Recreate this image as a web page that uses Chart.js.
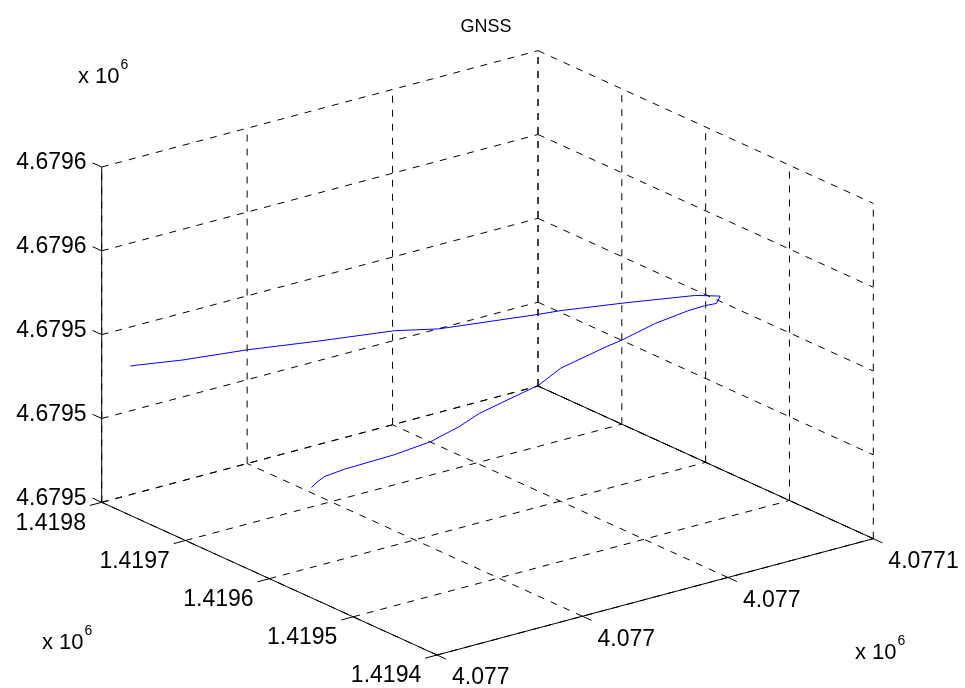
<!DOCTYPE html>
<html>
<head>
<meta charset="utf-8">
<title>GNSS</title>
<script src="https://cdn.jsdelivr.net/npm/chart.js@4.4.0/dist/chart.umd.min.js"></script>
<style>
    html, body { margin: 0; padding: 0; background: #fff; }
    #wrap { width: 965px; height: 688px; }
</style>
</head>
<body>
<div id="wrap"><canvas id="gnssChart" width="965" height="688"></canvas></div>
<script>
// GNSS track, ECEF metres
const trackX = [4077002.9, 4077003.5, 4077007.7, 4077014.2, 4077021.1, 4077028.2, 4077031.7,
    4077041.6, 4077043.8, 4077049.9, 4077056.2, 4077057.8, 4077056.4, 4077055.7, 4077054.5,
    4077051.6, 4077047.8, 4077046.3, 4077041.4, 4077037.9, 4077031.5, 4077028.6, 4077025.3,
    4077022.2, 4077018.6, 4077016.9, 4077015.6, 4077014.6];
const trackY = [1419790.9, 1419789.0, 1419771.1, 1419749.6, 1419721.8, 1419695.6, 1419672.8,
    1419639.0, 1419632.0, 1419607.2, 1419579.0, 1419563.6, 1419555.9, 1419564.3, 1419573.6,
    1419587.2, 1419593.8, 1419600.0, 1419611.6, 1419607.3, 1419622.7, 1419622.0, 1419627.2,
    1419643.7, 1419671.6, 1419680.8, 1419679.5, 1419676.4];
const trackZ = [4679532.0, 4679532.1, 4679533.0, 4679534.4, 4679535.9, 4679537.4, 4679538.3,
    4679540.3, 4679540.8, 4679542.1, 4679543.5, 4679544.0, 4679543.6, 4679542.6, 4679541.1,
    4679538.2, 4679535.4, 4679533.9, 4679530.0, 4679528.0, 4679522.8, 4679521.0, 4679518.5,
    4679515.3, 4679511.0, 4679509.2, 4679508.4, 4679508.0];

// axis ticks and their labels (x 10^6)
const xTicks = [4077000, 4077020, 4077040, 4077060];
const xTickLabels = ['4.077', '4.077', '4.077', '4.0771'];
const yTicks = [1419400, 1419500, 1419600, 1419700, 1419800];
const yTickLabels = ['1.4194', '1.4195', '1.4196', '1.4197', '1.4198'];
const zTicks = [4679500, 4679520, 4679540, 4679560, 4679580];
const zTickLabels = ['4.6795', '4.6795', '4.6795', '4.6796', '4.6796'];

const xMin = xTicks[0], xMax = xTicks[xTicks.length - 1];
const yMin = yTicks[0], yMax = yTicks[yTicks.length - 1];
const zMin = zTicks[0], zMax = zTicks[zTicks.length - 1];

// orthographic view of the unit box: u along x, v from yMax to yMin, w up
const view = { ux: 436.3, uy: 116.3, vx: 335.3, vy: -152.7, wy: 335.3 };
const tickLen = 0.027;

function projN(u, v, w) {
    return { x: u * view.ux + v * view.vx, y: u * view.uy + v * view.vy + w * view.wy };
}
function nu(x) { return (x - xMin) / (xMax - xMin); }
function nv(y) { return (yMax - y) / (yMax - yMin); }
function nw(z) { return (z - zMin) / (zMax - zMin); }
function proj(x, y, z) { return projN(nu(x), nv(y), nw(z)); }

function lineSet(points, color, dash) {
    return {
        data: points,
        showLine: true,
        borderColor: color,
        borderWidth: 1,
        borderDash: dash,
        pointRadius: 0,
        fill: false,
        tension: 0
    };
}

const datasets = [];

// dashed grid on the floor and the two back walls
const dash = [7, 7];
xTicks.forEach(x => {
    datasets.push(lineSet([proj(x, yMin, zMin), proj(x, yMax, zMin)], '#000', dash));
    datasets.push(lineSet([proj(x, yMax, zMin), proj(x, yMax, zMax)], '#000', dash));
});
yTicks.forEach(y => {
    datasets.push(lineSet([proj(xMin, y, zMin), proj(xMax, y, zMin)], '#000', dash));
    datasets.push(lineSet([proj(xMax, y, zMin), proj(xMax, y, zMax)], '#000', dash));
});
zTicks.forEach(z => {
    datasets.push(lineSet([proj(xMin, yMax, z), proj(xMax, yMax, z)], '#000', dash));
    datasets.push(lineSet([proj(xMax, yMax, z), proj(xMax, yMin, z)], '#000', dash));
});

// solid axis lines (plus the back floor edge, where two grids overlap)
datasets.push(lineSet([proj(xMin, yMax, zMin), proj(xMin, yMax, zMax)], '#000', []));
datasets.push(lineSet([proj(xMin, yMax, zMin), proj(xMin, yMin, zMin)], '#000', []));
datasets.push(lineSet([proj(xMin, yMin, zMin), proj(xMax, yMin, zMin)], '#000', []));
datasets.push(lineSet([proj(xMax, yMax, zMin), proj(xMax, yMin, zMin)], '#000', []));

// tick marks
xTicks.forEach(x => datasets.push(lineSet([projN(nu(x), 1, 0), projN(nu(x), 1 + tickLen, 0)], '#000', [])));
yTicks.forEach(y => datasets.push(lineSet([projN(0, nv(y), 0), projN(-tickLen, nv(y), 0)], '#000', [])));
zTicks.forEach(z => datasets.push(lineSet([projN(0, 0, nw(z)), projN(0, -tickLen, nw(z))], '#000', [])));

// the track itself
const track = trackX.map((x, i) => proj(x, trackY[i], trackZ[i]));
datasets.push(lineSet(track, '#0000ff', []));

// text: title, tick labels, exponents
const textPlugin = {
    id: 'axisText',
    afterDraw(chart) {
        const ctx = chart.ctx;
        const sx = chart.scales.x, sy = chart.scales.y;
        const pix = p => ({ x: sx.getPixelForValue(p.x), y: sy.getPixelForValue(p.y) });
        const font = '"Liberation Sans", Arial, Helvetica, sans-serif';
        ctx.save();
        ctx.fillStyle = '#000';

        ctx.font = '18px ' + font;
        ctx.textAlign = 'center';
        ctx.textBaseline = 'middle';
        ctx.fillText('GNSS', 486, 27);

        ctx.font = '23px ' + font;
        ctx.textAlign = 'right';
        zTicks.forEach((z, i) => {
            const p = pix(projN(0, -tickLen, nw(z)));
            ctx.fillText(zTickLabels[i], p.x - 6, p.y);
        });
        yTicks.forEach((y, i) => {
            const p = pix(projN(-tickLen, nv(y), 0));
            ctx.fillText(yTickLabels[i], p.x - 4, p.y + 18);
        });
        ctx.textAlign = 'left';
        xTicks.forEach((x, i) => {
            const p = pix(projN(nu(x), 1 + tickLen, 0));
            ctx.fillText(xTickLabels[i], p.x + 6, p.y + 19);
        });

        // "x 10^6" multipliers
        const expo = (x, y) => {
            ctx.font = '22px ' + font;
            ctx.textAlign = 'left';
            ctx.fillText('x 10', x, y);
            const w = ctx.measureText('x 10').width;
            ctx.font = '14px ' + font;
            ctx.fillText('6', x + w + 1, y - 12);
        };
        expo(78, 77);
        expo(42, 643);
        expo(855, 653);
        ctx.restore();
    }
};

document.addEventListener('DOMContentLoaded', function() {
    const ctx = document.getElementById('gnssChart').getContext('2d');
    new Chart(ctx, {
        type: 'scatter',
        data: { datasets: datasets },
        options: {
            responsive: false,
            animation: false,
            layout: { padding: 0 },
            plugins: {
                legend: { display: false },
                tooltip: { enabled: false },
                title: { display: false }
            },
            scales: {
                x: { type: 'linear', min: -101.7, max: 863.3, display: false },
                y: { type: 'linear', min: -185.7, max: 502.3, display: false }
            }
        },
        plugins: [textPlugin]
    });
});
</script>
</body>
</html>
